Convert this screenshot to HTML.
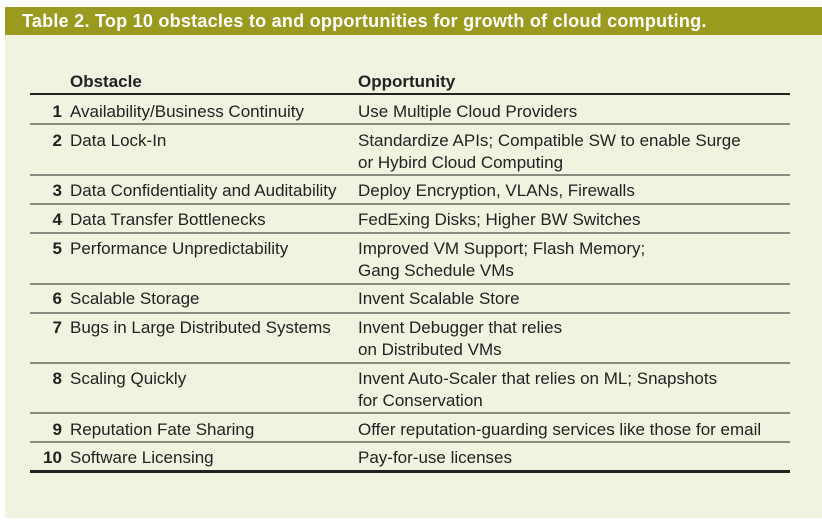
<!DOCTYPE html>
<html><head><meta charset="utf-8"><style>
body{margin:0;width:822px;height:528px;background:#fff;position:relative;overflow:hidden;font-family:"Liberation Sans",sans-serif;color:#222;}
.bg{position:absolute;left:5px;top:7px;width:817px;height:511px;background:#f2f2e1;}
.hd{position:absolute;left:5px;top:7px;width:817px;height:28px;background:#9a9b1e;color:#fff;font-weight:bold;font-size:18px;letter-spacing:0.25px;line-height:28px;padding-left:17px;box-sizing:border-box;white-space:nowrap;}
.t{position:absolute;font-size:17px;line-height:22px;white-space:nowrap;}
.n{position:absolute;font-size:17px;line-height:22px;font-weight:bold;text-align:right;width:40px;left:22px;}
.ln{position:absolute;left:30px;width:760px;height:2px;background:#8a8a80;}
.b{font-weight:bold;}
</style></head><body>
<div class="bg"></div>
<div class="hd">Table 2. Top 10 obstacles to and opportunities for growth of cloud computing.</div>
<div class="t b" style="left:70px;top:71px">Obstacle</div>
<div class="t b" style="left:358px;top:71px">Opportunity</div>
<div class="ln" style="top:93px;background:#222;height:2px"></div>

<div class="n" style="top:101px">1</div><div class="t" style="left:70px;top:101px">Availability/Business Continuity</div><div class="t" style="left:358px;top:101px">Use Multiple Cloud Providers</div>
<div class="ln" style="top:123px"></div>
<div class="n" style="top:130px">2</div><div class="t" style="left:70px;top:130px">Data Lock-In</div><div class="t" style="left:358px;top:130px">Standardize APIs; Compatible SW to enable Surge<br>or Hybird Cloud Computing</div>
<div class="ln" style="top:174px"></div>
<div class="n" style="top:180px">3</div><div class="t" style="left:70px;top:180px">Data Confidentiality and Auditability</div><div class="t" style="left:358px;top:180px">Deploy Encryption, VLANs, Firewalls</div>
<div class="ln" style="top:203px"></div>
<div class="n" style="top:209px">4</div><div class="t" style="left:70px;top:209px">Data Transfer Bottlenecks</div><div class="t" style="left:358px;top:209px">FedExing Disks; Higher BW Switches</div>
<div class="ln" style="top:232px"></div>
<div class="n" style="top:238px">5</div><div class="t" style="left:70px;top:238px">Performance Unpredictability</div><div class="t" style="left:358px;top:238px">Improved VM Support; Flash Memory;<br>Gang Schedule VMs</div>
<div class="ln" style="top:283px"></div>
<div class="n" style="top:288px">6</div><div class="t" style="left:70px;top:288px">Scalable Storage</div><div class="t" style="left:358px;top:288px">Invent Scalable Store</div>
<div class="ln" style="top:312px"></div>
<div class="n" style="top:317px">7</div><div class="t" style="left:70px;top:317px">Bugs in Large Distributed Systems</div><div class="t" style="left:358px;top:317px">Invent Debugger that relies<br>on Distributed VMs</div>
<div class="ln" style="top:362px"></div>
<div class="n" style="top:368px">8</div><div class="t" style="left:70px;top:368px">Scaling Quickly</div><div class="t" style="left:358px;top:368px">Invent Auto-Scaler that relies on ML; Snapshots<br>for Conservation</div>
<div class="ln" style="top:412px"></div>
<div class="n" style="top:419px">9</div><div class="t" style="left:70px;top:419px">Reputation Fate Sharing</div><div class="t" style="left:358px;top:419px">Offer reputation-guarding services like those for email</div>
<div class="ln" style="top:441px"></div>
<div class="n" style="top:447px">10</div><div class="t" style="left:70px;top:447px">Software Licensing</div><div class="t" style="left:358px;top:447px">Pay-for-use licenses</div>
<div class="ln" style="top:470px;background:#222;height:3px"></div>
</body></html>
